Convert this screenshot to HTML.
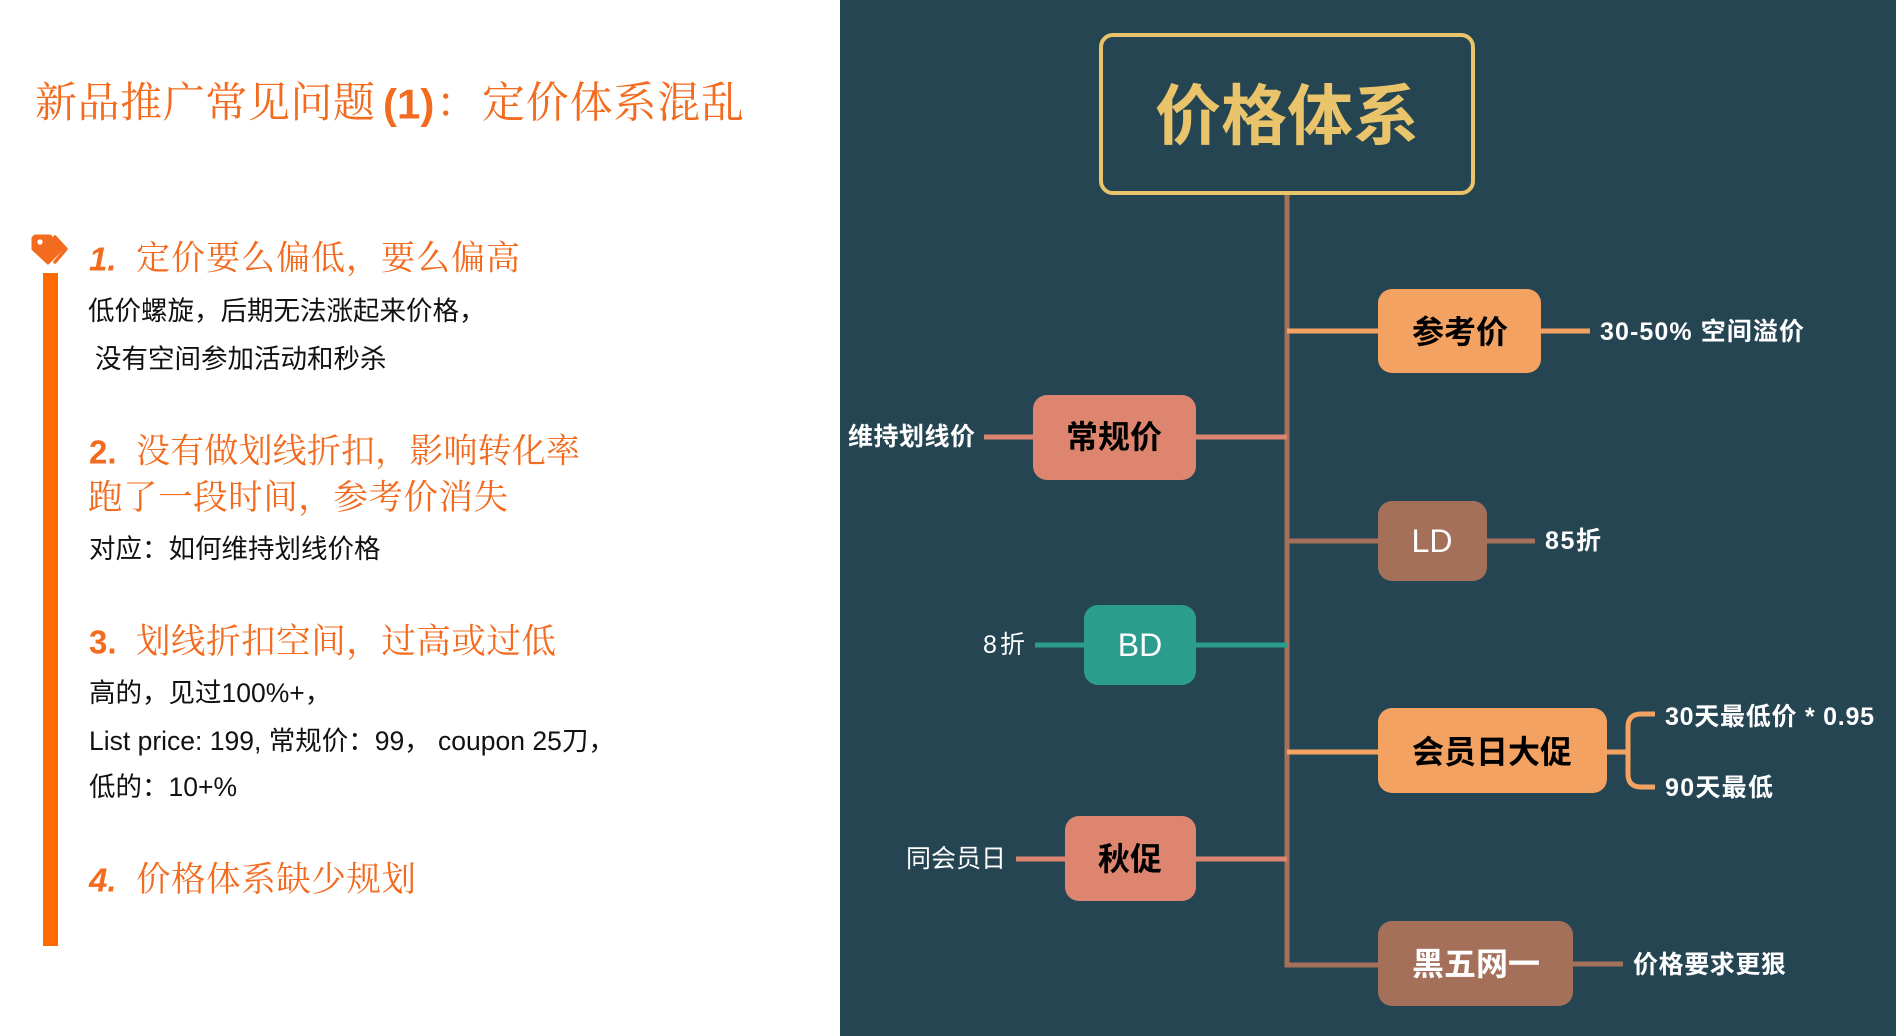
<!DOCTYPE html>
<html><head><meta charset="utf-8">
<style>
html,body{margin:0;padding:0;background:#fff;}
svg{display:block;}
.serif{font-family:"Liberation Serif","Noto Serif CJK SC",serif;}
.sans{font-family:"Liberation Sans","Noto Sans CJK SC",sans-serif;}
text{dominant-baseline:central;}
</style></head><body>
<svg width="1896" height="1036" viewBox="0 0 1896 1036" xmlns="http://www.w3.org/2000/svg">
<rect width="1896" height="1036" fill="#ffffff"/>

<!-- LEFT PANEL -->
<text class="serif" x="35" y="104" font-size="42" fill="#f26b1f" textLength="340" lengthAdjust="spacing">新品推广常见问题</text>
<text class="sans" x="383" y="104" font-size="42" font-weight="bold" fill="#f26b1f">(1)</text>
<text class="serif" x="436" y="104" font-size="42" fill="#f26b1f">：</text>
<text class="serif" x="482" y="104" font-size="43" fill="#f26b1f" textLength="262" lengthAdjust="spacing">定价体系混乱</text>

<!-- tag icon -->
<path d="M35 236 H50 L62 249 L48 263 L33 249 V238 Z" fill="#f26b1f" stroke="#f26b1f" stroke-width="3" stroke-linejoin="round"/>
<circle cx="40" cy="242" r="2.6" fill="#ffffff"/>
<polyline points="55,237 66,249 55,262" fill="none" stroke="#f26b1f" stroke-width="3.5" stroke-linecap="round" stroke-linejoin="round"/>

<!-- orange bar -->
<rect x="43" y="273" width="15" height="673" fill="#ff6a00"/>

<!-- item 1 -->
<text class="sans" x="89" y="259" font-size="33" font-weight="bold" font-style="italic" fill="#f26b1f">1.</text>
<text class="serif" x="136" y="259" font-size="34" fill="#f26b1f" textLength="384" lengthAdjust="spacing">定价要么偏低，要么偏高</text>
<text class="sans" x="88" y="311" font-size="26.5" fill="#111">低价螺旋，后期无法涨起来价格，</text>
<text class="sans" x="95" y="359" font-size="26.5" fill="#111">没有空间参加活动和秒杀</text>

<!-- item 2 -->
<text class="sans" x="89" y="452" font-size="33" font-weight="bold" fill="#f26b1f">2.</text>
<text class="serif" x="136" y="452" font-size="34" fill="#f26b1f" textLength="444" lengthAdjust="spacing">没有做划线折扣，影响转化率</text>
<text class="serif" x="88" y="498" font-size="34.5" fill="#f26b1f" textLength="420" lengthAdjust="spacing">跑了一段时间，参考价消失</text>
<text class="sans" x="89" y="549" font-size="26.5" fill="#111">对应：如何维持划线价格</text>

<!-- item 3 -->
<text class="sans" x="89" y="642" font-size="33" font-weight="bold" fill="#f26b1f">3.</text>
<text class="serif" x="136" y="642" font-size="34.5" fill="#f26b1f" textLength="420" lengthAdjust="spacing">划线折扣空间，过高或过低</text>
<text class="sans" x="89" y="693" font-size="26.5" fill="#111">高的，见过100%+，</text>
<text class="sans" x="89" y="741" font-size="26.5" fill="#111">List price: 199, 常规价：99，  coupon 25刀，</text>
<text class="sans" x="89" y="787" font-size="26.5" fill="#111">低的：10+%</text>

<!-- item 4 -->
<text class="sans" x="89" y="880" font-size="33" font-weight="bold" font-style="italic" fill="#f26b1f">4.</text>
<text class="serif" x="136" y="880" font-size="34.5" fill="#f26b1f" textLength="280" lengthAdjust="spacing">价格体系缺少规划</text>

<!-- RIGHT PANEL -->
<rect x="840" y="0" width="1056" height="1036" fill="#264552"/>

<!-- root -->
<rect x="1101" y="35" width="372" height="158" rx="12" ry="12" fill="none" stroke="#e9c46a" stroke-width="4"/>
<text class="sans" x="1287" y="116" font-size="66" font-weight="bold" fill="#e9c46a" text-anchor="middle">价格体系</text>

<!-- trunk with bottom elbow -->
<path d="M1287 195 V965 H1378" fill="none" stroke="#a5705a" stroke-width="5"/>

<!-- 参考价 -->
<line x1="1287" y1="331" x2="1380" y2="331" stroke="#f4a261" stroke-width="5"/>
<rect x="1378" y="289" width="163" height="84" rx="14" fill="#f4a261"/>
<text class="sans" x="1460" y="332" font-size="32" font-weight="bold" fill="#000" text-anchor="middle">参考价</text>
<line x1="1541" y1="331" x2="1590" y2="331" stroke="#f4a261" stroke-width="5"/>
<text class="sans" x="1600" y="332" font-size="25" font-weight="600" fill="#fff" textLength="204" lengthAdjust="spacing">30-50% 空间溢价</text>

<!-- 常规价 -->
<line x1="1194" y1="437" x2="1287" y2="437" stroke="#dd856e" stroke-width="5"/>
<line x1="984" y1="437" x2="1035" y2="437" stroke="#dd856e" stroke-width="5"/>
<rect x="1033" y="395" width="163" height="85" rx="14" fill="#dd856e"/>
<text class="sans" x="1114" y="437" font-size="32" font-weight="bold" fill="#000" text-anchor="middle">常规价</text>
<text class="sans" x="848" y="437" font-size="25" font-weight="bold" fill="#fff" textLength="127" lengthAdjust="spacing">维持划线价</text>

<!-- LD -->
<line x1="1287" y1="541" x2="1380" y2="541" stroke="#a5705a" stroke-width="5"/>
<rect x="1378" y="501" width="109" height="80" rx="14" fill="#a5705a"/>
<text class="sans" x="1432" y="541" font-size="32" fill="#fff" text-anchor="middle">LD</text>
<line x1="1487" y1="541" x2="1535" y2="541" stroke="#a5705a" stroke-width="5"/>
<text class="sans" x="1545" y="541" font-size="25" font-weight="600" fill="#fff" textLength="56" lengthAdjust="spacing">85折</text>

<!-- BD -->
<line x1="1194" y1="645" x2="1287" y2="645" stroke="#2a9d8f" stroke-width="5"/>
<line x1="1035" y1="645" x2="1086" y2="645" stroke="#2a9d8f" stroke-width="5"/>
<rect x="1084" y="605" width="112" height="80" rx="14" fill="#2a9d8f"/>
<text class="sans" x="1140" y="645" font-size="32" fill="#fff" text-anchor="middle">BD</text>
<text class="sans" x="983" y="645" font-size="25" fill="#fff" textLength="42" lengthAdjust="spacing">8折</text>

<!-- 会员日大促 -->
<line x1="1287" y1="752" x2="1380" y2="752" stroke="#f4a261" stroke-width="5"/>
<rect x="1378" y="708" width="229" height="85" rx="14" fill="#f4a261"/>
<text class="sans" x="1492" y="752" font-size="32" font-weight="bold" fill="#000" text-anchor="middle">会员日大促</text>
<path d="M1607 752 H1628 M1655 714 H1641 Q1628 714 1628 727 V774 Q1628 787 1641 787 H1655" fill="none" stroke="#f4a261" stroke-width="5"/>
<text class="sans" x="1665" y="717" font-size="25" font-weight="600" fill="#fff" textLength="209" lengthAdjust="spacing">30天最低价 * 0.95</text>
<text class="sans" x="1665" y="788" font-size="25" font-weight="600" fill="#fff" textLength="108" lengthAdjust="spacing">90天最低</text>

<!-- 秋促 -->
<line x1="1194" y1="859" x2="1287" y2="859" stroke="#dd856e" stroke-width="5"/>
<line x1="1016" y1="859" x2="1067" y2="859" stroke="#dd856e" stroke-width="5"/>
<rect x="1065" y="816" width="131" height="85" rx="14" fill="#dd856e"/>
<text class="sans" x="1130" y="859" font-size="32" font-weight="bold" fill="#000" text-anchor="middle">秋促</text>
<text class="sans" x="906" y="859" font-size="25" fill="#fff" textLength="100" lengthAdjust="spacing">同会员日</text>

<!-- 黑五网一 -->
<rect x="1378" y="921" width="195" height="85" rx="14" fill="#a5705a"/>
<text class="sans" x="1476" y="964" font-size="32" font-weight="bold" fill="#fff" text-anchor="middle">黑五网一</text>
<line x1="1573" y1="964" x2="1623" y2="964" stroke="#a5705a" stroke-width="5"/>
<text class="sans" x="1633" y="965" font-size="25" font-weight="bold" fill="#fff" textLength="153" lengthAdjust="spacing">价格要求更狠</text>
</svg>
</body></html>
